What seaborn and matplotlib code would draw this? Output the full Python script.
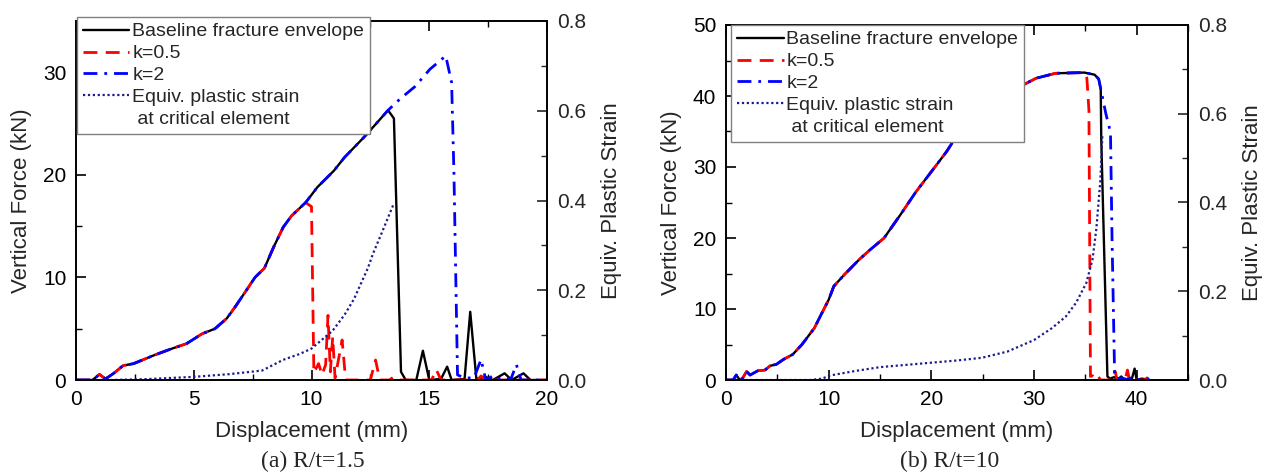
import numpy as np
import pandas as pd
import seaborn as sns
import matplotlib
matplotlib.use("Agg")
import matplotlib.pyplot as plt
from matplotlib.ticker import MultipleLocator
from matplotlib.lines import Line2D

# ---------------- Panel (a) R/t = 1.5 ----------------
a_base_x = [0, 0.7, 1.0, 1.25, 1.6, 2.0, 2.45, 3.3, 4.0, 4.7, 5.35, 5.9, 6.4, 6.75, 7.25, 7.6,
            8.0, 8.4, 8.8, 9.15, 9.75, 10.25, 10.95, 11.4, 12.2, 12.75, 13.25, 13.5, 13.8, 14.0,
            14.45, 14.73, 15.0, 15.5, 15.76, 15.95, 16.5, 16.74, 17.0, 17.4, 17.7, 18.2, 18.5,
            19.0, 19.3, 20.0]
a_base_y = [0, 0, 0.55, 0.1, 0.65, 1.4, 1.6, 2.4, 3.0, 3.55, 4.5, 5.0, 6.0, 7.1, 8.8, 10.0,
            10.9, 13.0, 14.9, 16.0, 17.3, 18.8, 20.4, 21.7, 23.6, 25.0, 26.3, 25.5, 0.8, 0,
            0, 2.85, 0, 0.1, 1.3, 0, 0.1, 6.65, 0.1, 0.3, 0, 0.65, 0,
            0.65, 0, 0]

a_k05_x = [0, 0.7, 1.0, 1.25, 1.6, 2.0, 2.45, 3.3, 4.0, 4.7, 5.35, 5.9, 6.4, 6.75, 7.25, 7.6,
           8.0, 8.4, 8.8, 9.15, 9.75, 10.0, 10.1, 10.3, 10.45, 10.6, 10.7, 10.8, 10.9, 11.0,
           11.3, 11.45, 12.5, 12.72, 12.9, 13.3, 13.5, 13.7, 15.1, 15.3, 15.5, 17.05, 17.2,
           17.4, 20.0]
a_k05_y = [0, 0, 0.55, 0.1, 0.65, 1.4, 1.6, 2.4, 3.0, 3.55, 4.5, 5.0, 6.0, 7.1, 8.8, 10.0,
           10.9, 13.0, 14.9, 16.0, 17.3, 16.9, 0.7, 1.6, 0.5, 1.5, 6.3, 0.8, 4.2, 0.2,
           3.9, 0, 0, 1.95, 0, 0, 0.3, 0, 0, 1.0, 0, 0, 0.4,
           0, 0]

a_k2_x = [0, 0.7, 1.0, 1.25, 1.6, 2.0, 2.45, 3.3, 4.0, 4.7, 5.35, 5.9, 6.4, 6.75, 7.25, 7.6,
          8.0, 8.4, 8.8, 9.15, 9.75, 10.25, 10.95, 11.4, 12.2, 12.75, 13.25, 13.76, 14.39,
          15.03, 15.7, 15.95, 16.05, 16.2, 16.5, 16.9, 17.2, 17.4, 17.7, 17.9, 18.2, 18.45,
          18.7, 18.9, 20.0]
a_k2_y = [0, 0, 0.55, 0.1, 0.65, 1.4, 1.6, 2.4, 3.0, 3.55, 4.5, 5.0, 6.0, 7.1, 8.8, 10.0,
          10.9, 13.0, 14.9, 16.0, 17.3, 18.8, 20.4, 21.7, 23.6, 25.0, 26.3, 27.4, 28.6,
          30.3, 31.6, 29.0, 20.0, 0.5, 0.2, 0.2, 2.0, 0, 0.4, 0.1, 0.3, 0,
          1.5, 0, 0]

a_eps_x = [0, 1.5, 3.0, 5.0, 6.5, 7.9, 8.8, 9.5, 10.0, 10.9, 11.4, 11.8, 12.4, 12.6, 13.0, 13.47]
a_eps_y = [0, 0, 0.002, 0.007, 0.013, 0.021, 0.045, 0.058, 0.07, 0.11, 0.145, 0.18, 0.25,
           0.28, 0.33, 0.39]

# ---------------- Panel (b) R/t = 10 ----------------
b_base_x = [0, 0.7, 1.0, 1.35, 1.6, 2.0, 2.35, 3.1, 3.8, 4.3, 4.9, 5.6, 6.5, 7.4, 8.6, 9.4,
            10.0, 10.5, 11.5, 13.0, 14.0, 15.4, 17.0, 18.5, 20.35, 21.5, 22.3, 23.5, 25.0, 26.5,
            27.6, 28.6, 30.2, 32.1, 34.9, 35.9, 36.3, 36.5, 36.55, 37.15, 37.4, 37.8, 38.2,
            38.5, 38.8, 39.5, 39.8, 40.0, 40.5, 41.2]
b_base_y = [0, 0, 0.7, 0, 0.2, 1.2, 0.7, 1.3, 1.4, 2.0, 2.2, 2.9, 3.6, 5.0, 7.3, 9.6,
            11.3, 13.2, 14.8, 17.0, 18.3, 20.0, 23.3, 26.5, 30.0, 32.2, 34.0, 35.8, 37.5, 39.2,
            40.3, 41.3, 42.5, 43.2, 43.3, 43.0, 42.4, 41.0, 34.0, 0.5, 0.2, 0.4, 0.1,
            0.5, 0, 0, 1.6, 0, 0.2, 0]

b_k05_x = [0, 0.7, 1.0, 1.35, 1.6, 2.0, 2.35, 3.1, 3.8, 4.3, 4.9, 5.6, 6.5, 7.4, 8.6, 9.4,
           10.0, 10.5, 11.5, 13.0, 14.0, 15.4, 17.0, 18.5, 20.35, 21.5, 22.3, 23.5, 25.0, 26.5,
           27.6, 28.6, 30.2, 32.1, 34.9, 35.15, 35.35, 35.5, 35.7, 35.9, 36.2, 36.5, 37.7,
           37.9, 38.1, 38.9, 39.1, 39.3, 40.8, 41.0, 41.2]
b_k05_y = [0, 0, 0.7, 0, 0.2, 1.2, 0.7, 1.3, 1.4, 2.0, 2.2, 2.9, 3.6, 5.0, 7.3, 9.6,
           11.3, 13.2, 14.8, 17.0, 18.3, 20.0, 23.3, 26.5, 30.0, 32.2, 34.0, 35.8, 37.5, 39.2,
           40.3, 41.3, 42.5, 43.2, 43.3, 42.5, 38.0, 0.5, 0.6, 0.2, 0.6, 0, 0,
           1.2, 0, 0.2, 1.4, 0, 0, 0.3, 0]

b_k2_x = [0, 0.7, 1.0, 1.35, 1.6, 2.0, 2.35, 3.1, 3.8, 4.3, 4.9, 5.6, 6.5, 7.4, 8.6, 9.4,
          10.0, 10.5, 11.5, 13.0, 14.0, 15.4, 17.0, 18.5, 20.35, 21.5, 22.3, 23.5, 25.0, 26.5,
          27.6, 28.6, 30.2, 32.1, 34.9, 35.9, 36.3, 36.7, 37.0, 37.45, 37.6, 37.85, 38.1,
          38.5, 39.0, 39.5, 40.0, 41.0, 41.2]
b_k2_y = [0, 0, 0.7, 0, 0.2, 1.2, 0.7, 1.3, 1.4, 2.0, 2.2, 2.9, 3.6, 5.0, 7.3, 9.6,
          11.3, 13.2, 14.8, 17.0, 18.3, 20.0, 23.3, 26.5, 30.0, 32.2, 34.0, 35.8, 37.5, 39.2,
          40.3, 41.3, 42.5, 43.2, 43.3, 43.0, 42.4, 39.6, 37.5, 34.9, 20.0, 0.9, 0.2,
          0.3, 0.1, 0.3, 0, 0.3, 0]

b_eps_x = [0, 8.2, 9.35, 10.1, 12.5, 15.0, 17.5, 20.0, 22.5, 24.9, 27.4, 30.0, 31.75, 33.1,
           34.1, 35.1, 35.7, 36.07, 36.46, 36.66]
b_eps_y = [0, 0, 0.003, 0.01, 0.02, 0.029, 0.034, 0.039, 0.044, 0.05, 0.064, 0.09, 0.117,
           0.143, 0.174, 0.219, 0.272, 0.34, 0.449, 0.551]

legend_labels = ["Baseline fracture envelope", "k=0.5", "k=2", "Equiv. plastic strain",
                 " at critical element"]
x_label = "Displacement (mm)"
y_label = "Vertical Force (kN)"
y2_label = "Equiv. Plastic Strain"

# ---------------- styling ----------------
sns.set_style("ticks")
plt.rcParams['font.family'] = ['Liberation Sans', 'DejaVu Sans']
plt.rcParams['axes.linewidth'] = 1.2

BLACK_LS = '-'
RED_LS = (0, (5, 3))
BLUE_LS = (0, (5, 2.5, 1, 2.5))
DOT_LS = (0, (1, 1.2))
NAVY = '#1c1c8e'

fig = plt.figure(figsize=(12.66, 4.76), dpi=100)


def line(ax, x, y, color, ls, lw):
    df = pd.DataFrame({"x": x, "y": y})
    sns.lineplot(data=df, x="x", y="y", ax=ax, color=color, linestyle=ls, linewidth=lw,
                 estimator=None, sort=False, legend=False)
    return ax.get_lines()[-1]


def panel(rect, xlim, xmaj, xmin, ylim, ymaj, ymin, base, k05, k2, eps, caption, cap_xy,
          leg_anchor):
    ax = fig.add_axes(rect)
    ax2 = ax.twinx()
    h1 = line(ax, base[0], base[1], 'black', BLACK_LS, 1.7)
    h2 = line(ax, k05[0], k05[1], '#ff0000', RED_LS, 2.0)
    h3 = line(ax, k2[0], k2[1], '#0000ff', BLUE_LS, 2.0)
    h4 = line(ax2, eps[0], eps[1], NAVY, DOT_LS, 1.6)
    h5 = Line2D([], [], linestyle='none')

    ax.set_xlim(*xlim)
    ax.set_ylim(*ylim)
    ax2.set_ylim(0, 0.8)
    ax.xaxis.set_major_locator(MultipleLocator(xmaj))
    ax.xaxis.set_minor_locator(MultipleLocator(xmin))
    ax.yaxis.set_major_locator(MultipleLocator(ymaj))
    ax.yaxis.set_minor_locator(MultipleLocator(ymin))
    ax2.yaxis.set_major_locator(MultipleLocator(0.2))
    ax2.yaxis.set_minor_locator(MultipleLocator(0.1))
    ax2.yaxis.set_major_formatter(matplotlib.ticker.FormatStrFormatter('%.1f'))

    ax.tick_params(which='both', direction='in', top=True, right=False, labelsize=15,
                   color='black', labelcolor='black')
    ax.tick_params(which='major', length=7, width=1.2, pad=7)
    ax.tick_params(which='minor', length=4, width=1.0)
    ax2.tick_params(which='both', direction='in', right=True, left=False, labelsize=15)
    ax2.tick_params(which='major', length=7, width=1.2, pad=7)
    ax2.tick_params(which='minor', length=4, width=1.0)
    for a in (ax, ax2):
        for s in a.spines.values():
            s.set_color('black')
            s.set_linewidth(1.2)

    ax.set_xlabel(x_label, fontsize=16, labelpad=9)
    ax.set_ylabel(y_label, fontsize=16, labelpad=8)
    ax2.set_ylabel(y2_label, fontsize=16, labelpad=11)

    leg = ax2.legend([h1, h2, h3, h4, h5], legend_labels, loc='upper left',
                     bbox_to_anchor=leg_anchor, borderaxespad=0, fontsize=14,
                     frameon=True, fancybox=False, framealpha=1, edgecolor='#808080',
                     handlelength=2.4, handletextpad=0.15, labelspacing=0.22,
                     borderpad=0.3)
    leg.get_frame().set_linewidth(1.0)
    leg.set_zorder(10)

    fig.text(cap_xy[0], cap_xy[1], caption, family=['Liberation Serif', 'DejaVu Serif'],
             fontsize=17, ha='center', va='center')
    return ax, ax2


panel([76 / 1266, 96 / 476, 471 / 1266, 359 / 476], (0, 20), 5, 2.5, (0, 35), 10, 5,
      (a_base_x, a_base_y), (a_k05_x, a_k05_y), (a_k2_x, a_k2_y), (a_eps_x, a_eps_y),
      "(a) R/t=1.5", (313 / 1266, 1 - 461 / 476), (0.002, 1.011))

panel([726 / 1266, 96 / 476, 462 / 1266, 355 / 476], (0, 45), 10, 5, (0, 50), 10, 5,
      (b_base_x, b_base_y), (b_k05_x, b_k05_y), (b_k2_x, b_k2_y), (b_eps_x, b_eps_y),
      "(b) R/t=10", (950 / 1266, 1 - 461 / 476), (0.011, 1.0))

fig.savefig("out.png", dpi=100)
